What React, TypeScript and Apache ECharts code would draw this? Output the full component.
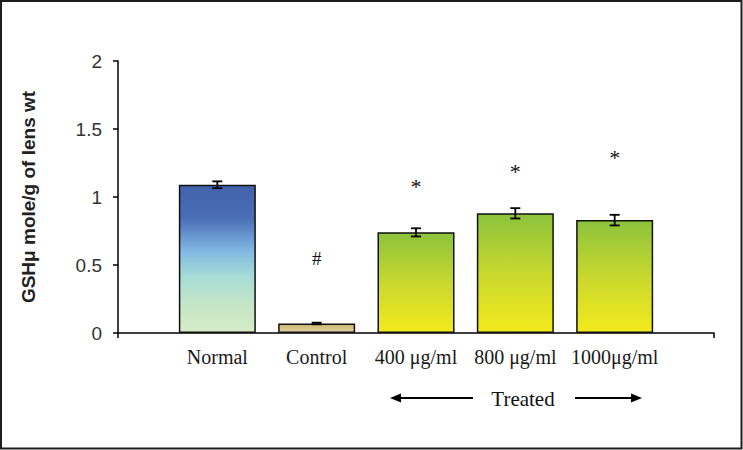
import React, { useEffect, useRef } from "react";
import * as echarts from "echarts";

const categories = ["", "Normal", "Control", "400 μg/ml", "800 μg/ml", "1000μg/ml", ""];
const means = [null, 1.09, 0.07, 0.74, 0.88, 0.83, null];
const errors = [null, 0.025, 0.006, 0.03, 0.038, 0.039, null];
const marks = [null, null, "#", "*", "*", "*", null];
const markLevels = [null, null, 0.55, 1.08, 1.19, 1.29, null];
const yTicks = [0, 0.5, 1, 1.5, 2];

const blueGrad = new echarts.graphic.LinearGradient(0, 0, 0, 1, [
  { offset: 0, color: "#4262ab" },
  { offset: 0.22, color: "#4a6db6" },
  { offset: 0.45, color: "#82b9e2" },
  { offset: 0.62, color: "#a6dcd6" },
  { offset: 0.82, color: "#c6e6c6" },
  { offset: 1, color: "#d6ecc6" },
]);
const tanGrad = new echarts.graphic.LinearGradient(0, 0, 0, 1, [
  { offset: 0, color: "#c9b273" },
  { offset: 1, color: "#e3d39f" },
]);
const greenGrad = new echarts.graphic.LinearGradient(0, 0, 0, 1, [
  { offset: 0, color: "#8cc33c" },
  { offset: 0.5, color: "#c8d82e" },
  { offset: 1, color: "#f4ea1c" },
]);
const fills = [null, blueGrad, tanGrad, greenGrad, greenGrad, greenGrad, null];

export default function App() {
  const ref = useRef<HTMLDivElement>(null);
  useEffect(() => {
    document.body.style.margin = "0";
    const chart = echarts.init(ref.current!, null, { renderer: "svg" });
    const barData = means.map((v, i) =>
      v == null ? null : { value: v, itemStyle: { color: fills[i] } }
    );
    const errData = means
      .map((v, i) => (v == null ? null : [i, v, errors[i]]))
      .filter((d) => d != null);
    const markData = marks
      .map((m, i) => (m == null ? null : { value: [i, markLevels[i]], name: m }))
      .filter((d) => d != null);
    chart.setOption({
      animation: false,
      backgroundColor: "#ffffff",
      grid: { left: 118, right: 29, top: 61, bottom: 117 },
      xAxis: {
        type: "category",
        data: categories,
        boundaryGap: false,
        axisLine: { lineStyle: { color: "#000", width: 1.5 } },
        axisTick: {
          show: true,
          length: 5,
          interval: (idx: number) => idx === 0 || idx === categories.length - 1,
          lineStyle: { color: "#000", width: 1.5 },
        },
        axisLabel: {
          interval: 0,
          margin: 14,
          fontFamily: "Liberation Serif",
          fontSize: 20,
          color: "#1a1a1a",
        },
        splitLine: { show: false },
      },
      yAxis: {
        type: "value",
        min: 0,
        max: 2,
        interval: 0.5,
        name: "GSHμ mole/g of lens wt",
        nameLocation: "middle",
        nameGap: 80,
        nameRotate: 90,
        nameTextStyle: {
          fontFamily: "Liberation Sans",
          fontWeight: "bold",
          fontSize: 19,
          color: "#222",
        },
        axisLine: { show: true, lineStyle: { color: "#000", width: 1.5 } },
        axisTick: { show: true, length: 5, inside: false, lineStyle: { color: "#000", width: 1.5 } },
        axisLabel: {
          margin: 16,
          fontFamily: "Liberation Sans",
          fontSize: 19,
          color: "#333",
          formatter: (v: number) => (yTicks.includes(v) ? String(v) : ""),
        },
        splitLine: { show: false },
      },
      series: [
        {
          type: "bar",
          data: barData,
          barWidth: 77,
          itemStyle: { borderColor: "#111", borderWidth: 1.5 },
        },
        {
          type: "custom",
          data: errData,
          z: 5,
          renderItem: (params: any, api: any) => {
            const i = api.value(0);
            const v = api.value(1);
            const e = api.value(2);
            const top = api.coord([i, v + e]);
            const bot = api.coord([i, v - e]);
            const hw = 5;
            const st = { stroke: "#000", lineWidth: 1.8 };
            return {
              type: "group",
              children: [
                { type: "line", shape: { x1: top[0], y1: top[1], x2: bot[0], y2: bot[1] }, style: st },
                { type: "line", shape: { x1: top[0] - hw, y1: top[1], x2: top[0] + hw, y2: top[1] }, style: st },
                { type: "line", shape: { x1: bot[0] - hw, y1: bot[1], x2: bot[0] + hw, y2: bot[1] }, style: st },
              ],
            };
          },
        },
        {
          type: "custom",
          data: markData,
          z: 6,
          renderItem: (params: any, api: any) => {
            const p = api.coord([api.value(0), api.value(1)]);
            const txt = markData[params.dataIndex]!.name;
            return {
              type: "text",
              x: p[0],
              y: p[1],
              style: {
                text: txt,
                fontFamily: "Liberation Serif",
                fontSize: txt === "#" ? 19 : 22,
                fill: "#111",
                align: "center",
                verticalAlign: "middle",
              },
            };
          },
        },
      ],
      graphic: [
        {
          type: "rect",
          shape: { x: 1, y: 1, width: 740.5, height: 447.5 },
          style: { fill: "none", stroke: "#1e1e1e", lineWidth: 2 },
          silent: true,
        },
        {
          type: "line",
          shape: { x1: 398, y1: 398, x2: 473, y2: 398 },
          style: { stroke: "#000", lineWidth: 2 },
        },
        {
          type: "polygon",
          shape: { points: [[390, 398], [401, 393.5], [401, 402.5]] },
          style: { fill: "#000" },
        },
        {
          type: "line",
          shape: { x1: 575, y1: 398, x2: 634, y2: 398 },
          style: { stroke: "#000", lineWidth: 2 },
        },
        {
          type: "polygon",
          shape: { points: [[642, 398], [631, 393.5], [631, 402.5]] },
          style: { fill: "#000" },
        },
        {
          type: "text",
          x: 523,
          y: 399,
          style: {
            text: "Treated",
            fontFamily: "Liberation Serif",
            fontSize: 21,
            fill: "#111",
            align: "center",
            verticalAlign: "middle",
          },
        },
      ],
    });
    return () => chart.dispose();
  }, []);
  return <div ref={ref} style={{ width: 743, height: 450 }} />;
}
